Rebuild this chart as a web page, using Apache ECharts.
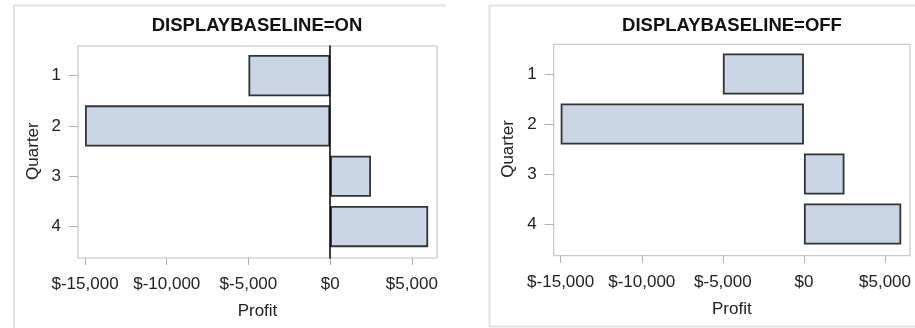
<!DOCTYPE html>
<html>
<head>
<meta charset="utf-8">
<script src="https://cdn.jsdelivr.net/npm/echarts@6/dist/echarts.min.js"></script>
<style>
html,body{margin:0;padding:0;background:#fff;}
#chart{width:915px;height:328px;}
</style>
</head>
<body>
<div id="chart"></div>
<script>
// ---- data ----
var quarters = ['1', '2', '3', '4'];
var profit = [-5000, -15000, 2500, 6000];
var profitTicks = [-15000, -10000, -5000, 0, 5000];
var panelTitles = ['DISPLAYBASELINE=ON', 'DISPLAYBASELINE=OFF'];
var xMin = -15430, xMax = 6540;

var FONT = 'Liberation Sans, Arial, sans-serif';
var LABEL_SIZE = 17;

function fmt(v) {
  var s = Math.abs(v).toString().replace(/\B(?=(\d{3})+(?!\d))/g, ',');
  return '$' + (v < 0 ? '-' : '') + s;
}

// panel layout (frame = plot area rectangle, data = band area inside)
var panels = [
  {frame: {left: 78, top: 46, width: 359, height: 212}, data: {top: 50.5, height: 201.2}, baseline: true, titleX: 257},
  {frame: {left: 553.7, top: 44.3, width: 356.3, height: 211.4}, data: {top: 49, height: 200}, baseline: false, titleX: 732}
];

var grids = [], xAxes = [], yAxes = [], series = [], titles = [];
panels.forEach(function (p, i) {
  var f = p.frame;
  // frame grid
  grids.push({left: f.left, top: f.top, width: f.width, height: f.height,
    show: true, borderColor: '#bdbdbd', borderWidth: 1, backgroundColor: '#fff'});
  // data grid
  grids.push({left: f.left, top: p.data.top, width: f.width, height: p.data.height});
  var gF = i * 2, gD = i * 2 + 1;
  xAxes.push({
    gridIndex: gF, type: 'value', min: xMin, max: xMax, position: 'bottom',
    axisLine: {show: false, onZero: false},
    axisTick: {show: true, length: 7, customValues: profitTicks, lineStyle: {color: '#b0b0b0', width: 1}},
    axisLabel: {customValues: profitTicks, formatter: fmt, margin: 18, fontFamily: FONT, fontSize: LABEL_SIZE, color: '#222'},
    splitLine: {show: false},
    name: 'Profit', nameLocation: 'middle', nameGap: 45,
    nameTextStyle: {fontFamily: FONT, fontSize: LABEL_SIZE, color: '#222'}
  });
  yAxes.push({
    gridIndex: gF, type: 'value', min: 0, max: 1, show: p.baseline, z: 10,
    axisLine: {show: p.baseline, onZero: true, lineStyle: {color: '#000', width: 1.5}},
    axisTick: {show: false}, axisLabel: {show: false}, splitLine: {show: false}
  });
  xAxes.push({gridIndex: gD, type: 'value', min: xMin, max: xMax, show: false, splitLine: {show: false}});
  yAxes.push({
    gridIndex: gD, type: 'category', data: quarters, inverse: true, position: 'left',
    axisLine: {show: false, onZero: false},
    axisTick: {show: true, alignWithLabel: true, length: 9, lineStyle: {color: '#b0b0b0', width: 1}},
    axisLabel: {margin: 17, fontFamily: FONT, fontSize: LABEL_SIZE, color: '#222'},
    name: 'Quarter', nameLocation: 'middle', nameGap: 36.5,
    nameTextStyle: {fontFamily: FONT, fontSize: LABEL_SIZE, color: '#222'}
  });
  series.push({
    type: 'bar', xAxisIndex: gD, yAxisIndex: gD, data: profit, barWidth: '82%',
    itemStyle: {color: '#cad5e5', borderColor: '#333333', borderWidth: 1.8},
    emphasis: {disabled: true}, animation: false
  });
  titles.push({
    text: panelTitles[i], left: p.titleX, top: 16, textAlign: 'center', padding: 0,
    textStyle: {fontFamily: FONT, fontSize: 18.5, fontWeight: 'bold', color: '#111'}
  });
});

var lineStyle = {stroke: '#e2e2e2', lineWidth: 2};
var graphics = [
  {type: 'line', shape: {x1: 14, y1: 5.5, x2: 14, y2: 328}, style: lineStyle, silent: true},
  {type: 'line', shape: {x1: 14, y1: 5.5, x2: 446, y2: 5.5}, style: lineStyle, silent: true},
  {type: 'line', shape: {x1: 489.5, y1: 5, x2: 489.5, y2: 327}, style: lineStyle, silent: true},
  {type: 'line', shape: {x1: 489, y1: 5.5, x2: 915, y2: 5.5}, style: lineStyle, silent: true},
  {type: 'line', shape: {x1: 489, y1: 326.5, x2: 915, y2: 326.5}, style: lineStyle, silent: true}
];

var chart = echarts.init(document.getElementById('chart'), null, {renderer: 'canvas'});
chart.setOption({
  animation: false,
  backgroundColor: '#fff',
  title: titles,
  grid: grids,
  xAxis: xAxes,
  yAxis: yAxes,
  series: series,
  graphic: graphics
});
</script>
</body>
</html>
